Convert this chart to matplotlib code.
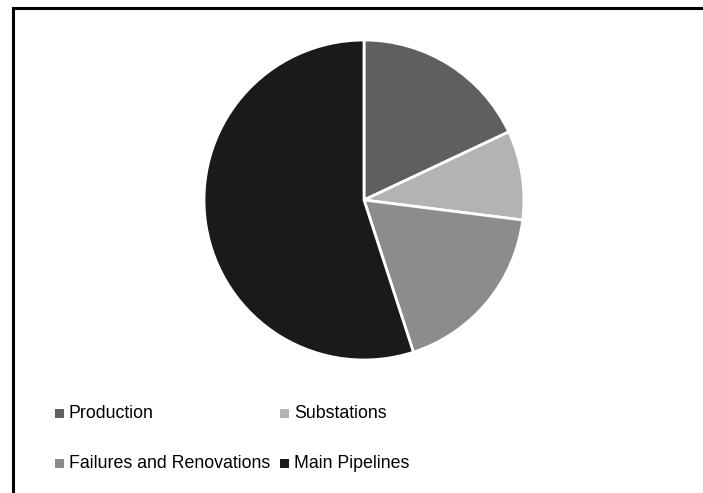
import matplotlib.pyplot as plt
from matplotlib.patches import Rectangle
from matplotlib.lines import Line2D

labels = ["Production", "Substations", "Failures and Renovations", "Main Pipelines"]
values = [18, 9, 18, 55]
colors = ["#5f5f5f", "#b3b3b3", "#8c8c8c", "#1a1a1a"]

W, H = 703, 493
fig = plt.figure(figsize=(W / 100, H / 100), dpi=100)

# pie area, centre (364, 200), radius 160 px
cx, cy, r = 364, 200, 160
ax = fig.add_axes([(cx - r) / W, (H - cy - r) / H, 2 * r / W, 2 * r / H])
ax.pie(values, colors=colors, startangle=90, counterclock=False, radius=1,
       wedgeprops=dict(edgecolor="white", linewidth=2))
ax.set_xlim(-1, 1)
ax.set_ylim(-1, 1)
ax.axis("off")

# frame: only the top and left edges show
fig.add_artist(Line2D([13 / W, 1], [1 - 8 / H, 1 - 8 / H], color="black", lw=2.2))
fig.add_artist(Line2D([13 / W, 13 / W], [0, 1 - 8 / H], color="black", lw=2.2))

# legend in two columns
col_x = [55, 280]
row_y = [413, 463]
for i, (lab, col) in enumerate(zip(labels, colors)):
    x = col_x[i % 2]
    y = row_y[i // 2]
    fig.add_artist(Rectangle((x / W, (H - y - 4.5) / H), 9 / W, 9 / H,
                             facecolor=col, edgecolor="none"))
    fig.text((x + 14) / W, (H - y) / H, lab, fontsize=12.8,
             family="Liberation Sans", va="center", ha="left")

fig.savefig("out.png", dpi=100)
